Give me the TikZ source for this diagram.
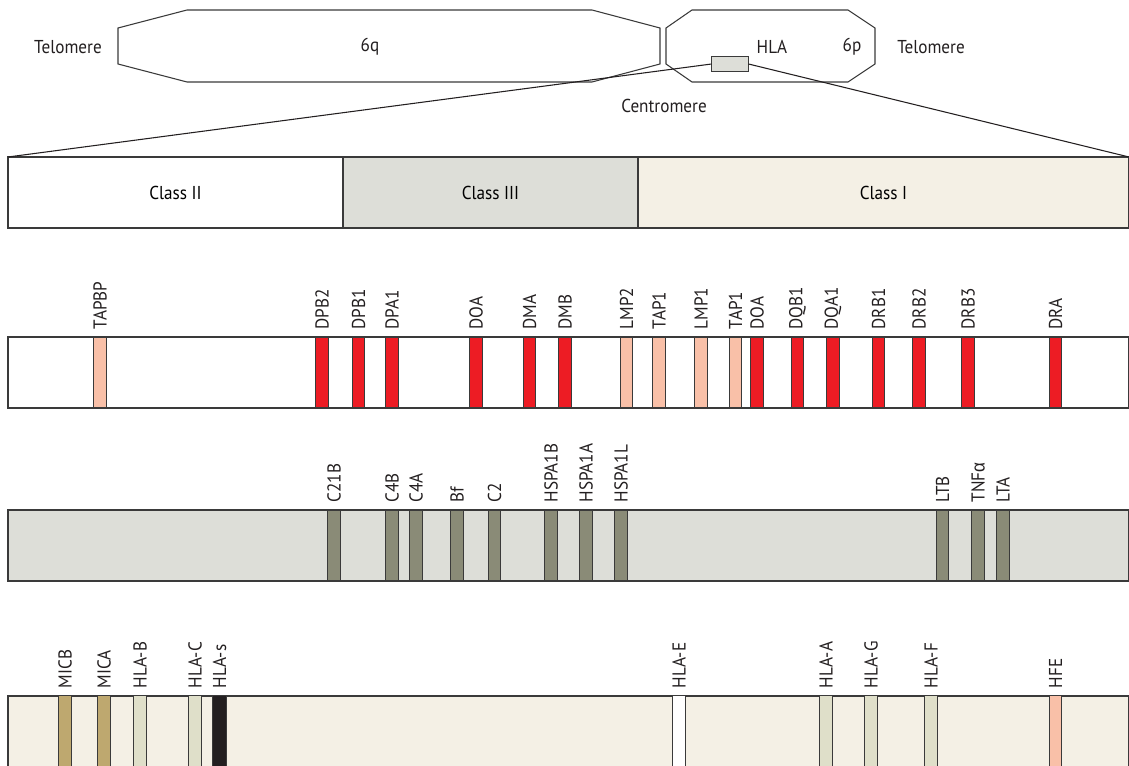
\documentclass[tikz,border=0pt]{standalone}
\usepackage{fontspec}
\setmainfont{PT Sans}[FakeStretch=0.92]
\newfontfamily\greekf{Liberation Sans}[FakeStretch=0.92]
\definecolor{linec}{HTML}{3A3A3A}
\definecolor{redg}{HTML}{ED1C24}
\definecolor{salmon}{HTML}{F9C0A8}
\definecolor{classgray}{HTML}{DDDED8}
\definecolor{cream}{HTML}{F4F0E5}
\definecolor{olive}{HTML}{8A8B77}
\definecolor{tan}{HTML}{BEA86F}
\definecolor{lightg}{HTML}{DFDFC9}
\definecolor{blackg}{HTML}{231F20}
\tikzset{
  box/.style={draw=linec, line width=0.9pt, inner sep=0pt, outer sep=0pt, anchor=north west, minimum height=53.25pt},
  genebar/.style={draw=linec, line width=0.8pt, inner sep=0pt, outer sep=0pt, minimum width=9.4pt, minimum height=53.25pt},
  genelabel/.style={rotate=90, anchor=west, inner sep=0pt, text=blackg},
  plain/.style={inner sep=0pt, text=blackg},
  chrom/.style={draw=linec, line width=0.8pt},
  conn/.style={draw=blackg, line width=0.8pt}
}
\begin{document}
\begin{tikzpicture}[x=0.75pt, y=-0.75pt, font=\fontsize{14}{16}\selectfont]
\useasboundingbox (0,0) rectangle (1129,766);
% chromosome
\draw[chrom] (118,28) -- (187,10) -- (592,10) -- (660,28) -- (660,64) -- (592,82) -- (187,82) -- (118,64) -- cycle;
\draw[chrom] (666,28) -- (692,10) -- (848,10) -- (875,28) -- (875,64) -- (848,82) -- (692,82) -- (666,64) -- cycle;
\node[plain] (tel1) at (68,47) {Telomere};
\node[plain] (q6) at (370,47) {6q};
\node[plain] (hlat) at (772,47) {HLA};
\node[plain] (p6) at (852,47) {6p};
\node[plain] (tel2) at (931,47) {Telomere};
\node[plain] (cen) at (664,106) {Centromere};
% class bar
\node[box, fill=white, minimum width=251.25pt] (c2) at (8,157) {Class II};
\node[box, fill=classgray, minimum width=221.25pt] (c3) at (343,157) {Class III};
\node[box, fill=cream, minimum width=368.25pt] (c1) at (638,157) {Class I};
\node[draw=linec, line width=0.8pt, fill=classgray, minimum width=27.75pt, minimum height=11.25pt, inner sep=0pt, outer sep=0pt] (hla) at (730,64) {};
\draw[conn] (hla.west) -- (c2.north west);
\draw[conn] (hla.east) -- (c1.north east);
% row 1
\node[box, fill=white, minimum width=840.75pt] (row1) at (8,337) {};
\foreach \x/\c/\t [count=\i] in {100/salmon/TAPBP, 322/redg/DPB2, 358.5/redg/DPB1, 392/redg/DPA1, 476/redg/DOA, 529.5/redg/DMA, 565/redg/DMB, 626.5/salmon/LMP2, 659/salmon/TAP1, 701/salmon/LMP1, 735.5/salmon/TAP1, 757/redg/DOA, 797.5/redg/DQB1, 833/redg/DQA1, 878.5/redg/DRB1, 919/redg/DRB2, 968/redg/DRB3, 1055.5/redg/DRA} {
  \node[genebar, fill=\c] (ga\i) at (\x,372.5) {};
  \node[genelabel] (la\i) at ([yshift=5.5pt]ga\i.north) {\t};
}
% row 2
\node[box, fill=classgray, minimum width=840.75pt] (row2) at (8,510) {};
\foreach \x/\t [count=\i] in {334/C21B, 392/C4B, 416/C4A, 457/Bf, 494.5/C2, 551/HSPA1B, 586/HSPA1A, 621/HSPA1L, 942.5/LTB, 978/TNF{\greekf α}, 1003/LTA} {
  \node[genebar, fill=olive] (gb\i) at (\x,545.5) {};
  \node[genelabel] (lb\i) at ([yshift=5.5pt]gb\i.north) {\t};
}
% row 3
\node[box, fill=cream, minimum width=840.75pt, minimum height=56pt] (row3) at (8,696) {};
\foreach \x/\c/\t/\w [count=\i] in {65/tan/MICB/9.4pt, 104/tan/MICA/9.4pt, 140/lightg/HLA-B/9.4pt, 195/lightg/HLA-C/9.4pt, 219.7/blackg/HLA-s/10.5pt, 679/white/HLA-E/9.4pt, 826/lightg/HLA-A/9.4pt, 871/lightg/HLA-G/9.4pt, 931/lightg/HLA-F/9.4pt, 1055.5/salmon/HFE/9.4pt} {
  \node[genebar, fill=\c, minimum width=\w, minimum height=56pt] (gc\i) at (\x,733) {};
  \node[genelabel] (lc\i) at ([yshift=5.5pt]gc\i.north) {\t};
}
\end{tikzpicture}
\end{document}
